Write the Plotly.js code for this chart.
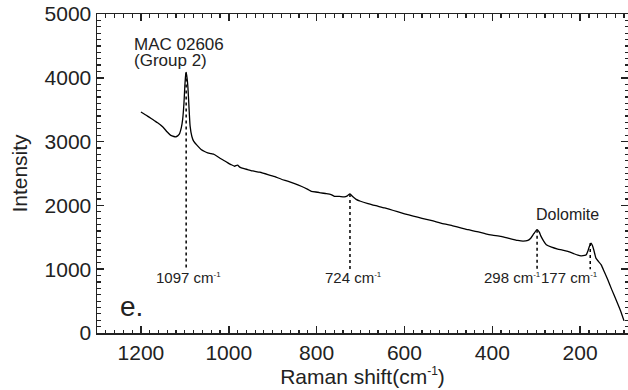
<!DOCTYPE html>
<html>
<head>
<meta charset="utf-8">
<script src="https://cdn.plot.ly/plotly-3.0.1.min.js"></script>
<style>html,body{margin:0;padding:0;background:#fff;}#chart{width:628px;height:390px;}</style>
</head>
<body>
<div id="chart"></div>
<script>
// Raman shift (cm^-1) and intensity
const ramanShift = [1200,1185,1170,1162,1150,1140,1132,1125,1120,1113,1108,1105,1102,1100,1098,1097,1095,1093,1091,1088,1084,1080,1072,1063,1055,1048,1040,1033,1020,1010,1002,995,987,980,975,965,957,945,930,911,895,880,866,850,835,820,812,797,790,778,767,759,748,737,730,724,718,710,700,683,665,645,625,607,590,570,550,531,510,490,470,455,435,415,400,380,360,342,330,319,312,305,298,293,289,283,277,265,251,240,228,215,205,198,190,186,182,179,175,172,169,164,158,152,145,137,128,118,108,100];
const intensity  = [3463,3400,3330,3296,3230,3150,3097,3080,3076,3112,3220,3348,3600,3872,4050,4083,4000,3850,3600,3243,3080,3007,2940,2877,2845,2825,2810,2798,2740,2700,2667,2640,2614,2630,2600,2575,2562,2540,2520,2484,2450,2410,2379,2340,2300,2250,2221,2206,2196,2185,2170,2143,2140,2133,2150,2180,2140,2095,2065,2028,1995,1960,1920,1882,1850,1815,1780,1750,1710,1680,1645,1619,1590,1555,1535,1514,1480,1451,1440,1451,1490,1560,1619,1580,1514,1440,1383,1345,1316,1300,1278,1245,1220,1210,1215,1226,1290,1357,1410,1370,1305,1174,1120,1069,960,833,680,519,350,190];

// Marked peaks
const peakPos    = [1097, 724, 298, 177];
const peakTop    = [4083, 2180, 1619, 1410];
const peakBottom = [1000, 1000, 1000, 1000];
const peakLabels = ['1097 cm', '724 cm', '298 cm', '177 cm'];

// Axis ticks
const xTicks = [1200, 1000, 800, 600, 400, 200];
const yTicks = [0, 1000, 2000, 3000, 4000, 5000];

const ink = '#222';
const fontFam = '"Liberation Sans", Arial, Helvetica, sans-serif';
const supM1 = '<sup><span style="font-size:8px">-1</span></sup>';

const traces = [{
  x: ramanShift, y: intensity, type: 'scatter', mode: 'lines',
  line: {color: '#000', width: 1.3, shape: 'spline', smoothing: 0.5},
  hoverinfo: 'skip', showlegend: false
}];
peakPos.forEach((p, i) => {
  traces.push({
    x: [p, p], y: [peakTop[i], peakBottom[i]], type: 'scatter', mode: 'lines',
    line: {color: '#000', width: 1.5, dash: 'dot'}, showlegend: false, hoverinfo: 'skip'
  });
});

const labelAnchor = ['center', 'center', 'right', 'right'];
const labelShift  = [2, 4, 5, 9];
const annotations = peakPos.map((p, i) => ({
  x: p, y: 870, xref: 'x', yref: 'y', text: peakLabels[i] + supM1, showarrow: false,
  xanchor: labelAnchor[i], yanchor: 'middle', xshift: labelShift[i], borderpad: 0,
  font: {size: 15, color: ink, family: fontFam}
}));
annotations.push(
  {x: 1219, y: 4519, xref: 'x', yref: 'y', text: 'MAC 02606', showarrow: false, xanchor: 'left', yanchor: 'middle', borderpad: 0, font: {size: 17, color: ink, family: fontFam}},
  {x: 1219, y: 4279, xref: 'x', yref: 'y', text: '(Group 2)', showarrow: false, xanchor: 'left', yanchor: 'middle', borderpad: 0, font: {size: 17, color: ink, family: fontFam}},
  {x: 229, y: 1850, xref: 'x', yref: 'y', text: 'Dolomite', showarrow: false, xanchor: 'center', yanchor: 'middle', font: {size: 16, color: ink, family: fontFam}},
  {x: 0.0395, y: 0.083, xref: 'paper', yref: 'paper', text: 'e.', showarrow: false, xanchor: 'left', yanchor: 'middle', font: {size: 28, color: ink, family: fontFam}}
);

const axisCommon = {
  showgrid: false, zeroline: false, showline: true, linecolor: ink, linewidth: 1.5,
  mirror: 'allticks', ticks: 'inside', ticklen: 7, tickwidth: 1.5, tickcolor: ink,
  tickfont: {size: 21, color: ink, family: fontFam}
};

const layout = {
  width: 628, height: 390,
  margin: {l: 97, r: 0, t: 14, b: 57, pad: 0},
  paper_bgcolor: '#fff', plot_bgcolor: '#fff',
  font: {family: fontFam, color: ink},
  showlegend: false,
  xaxis: Object.assign({}, axisCommon, {
    range: [1300, 91], tickmode: 'array', tickvals: xTicks, ticktext: xTicks.map(String),
    minor: {tickmode: 'linear', tick0: 0, dtick: 20, ticks: 'inside', ticklen: 3.5, tickwidth: 1.2, tickcolor: ink},
    title: {text: 'Raman shift(cm<sup><span style="font-size:12px">-1</span></sup>)', font: {size: 21, color: ink, family: fontFam}, standoff: 1}
  }),
  yaxis: Object.assign({}, axisCommon, {
    range: [0, 5000], tickmode: 'array', tickvals: yTicks, ticktext: yTicks.map(String),
    minor: {tickmode: 'linear', tick0: 0, dtick: 100, ticks: 'inside', ticklen: 3.5, tickwidth: 1.2, tickcolor: ink},
    title: {text: 'Intensity', font: {size: 21, color: ink, family: fontFam}, standoff: 11}
  }),
  annotations: annotations
};

Plotly.newPlot('chart', traces, layout, {displayModeBar: false, staticPlot: true});
</script>
</body>
</html>
